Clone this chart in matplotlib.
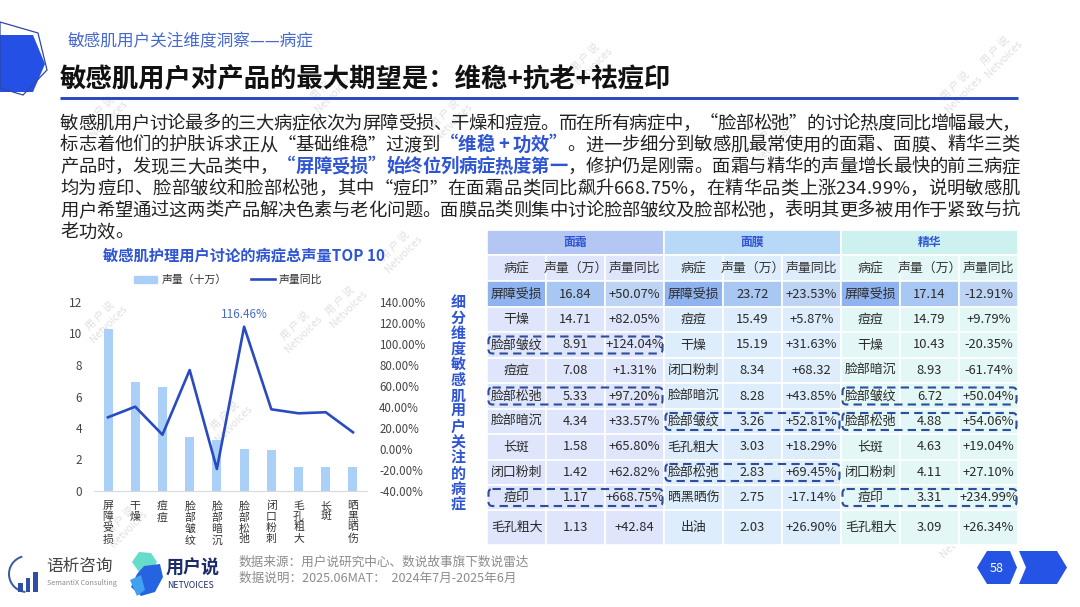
import numpy as np
import matplotlib.pyplot as plt
from matplotlib.patches import Polygon, Rectangle, FancyBboxPatch, Wedge
from matplotlib.lines import Line2D
from matplotlib.font_manager import FontProperties

plt.rcParams['font.family'] = ['Noto Sans CJK SC', 'DejaVu Sans']

# ---- data ----
cats = ['屏障受损', '干燥', '痘痘', '脸部皱纹', '脸部暗沉', '脸部松弛', '闭口粉刺', '毛孔粗大', '长斑', '晒黑晒伤']
vol = [10.28, 6.95, 6.6, 3.42, 3.25, 2.68, 2.6, 1.52, 1.52, 1.5]
yoy = [30.2, 40.3, 13.6, 75.2, -19.0, 116.46, 37.8, 34.0, 35.0, 15.9]
left_ticks = [0, 2, 4, 6, 8, 10, 12]
right_ticks = [-40, -20, 0, 20, 40, 60, 80, 100, 120, 140]

sections = ['面霜', '面膜', '精华']
col_heads = ['病症', '声量（万）', '声量同比']
cream_name = ['屏障受损', '干燥', '脸部皱纹', '痘痘', '脸部松弛', '脸部暗沉', '长斑', '闭口粉刺', '痘印', '毛孔粗大']
cream_vol = ['16.84', '14.71', '8.91', '7.08', '5.33', '4.34', '1.58', '1.42', '1.17', '1.13']
cream_yoy = ['+50.07%', '+82.05%', '+124.04%', '+1.31%', '+97.20%', '+33.57%', '+65.80%', '+62.82%', '+668.75%', '+42.84']
mask_name = ['屏障受损', '痘痘', '干燥', '闭口粉刺', '脸部暗沉', '脸部皱纹', '毛孔粗大', '脸部松弛', '晒黑晒伤', '出油']
mask_vol = ['23.72', '15.49', '15.19', '8.34', '8.28', '3.26', '3.03', '2.83', '2.75', '2.03']
mask_yoy = ['+23.53%', '+5.87%', '+31.63%', '+68.32', '+43.85%', '+52.81%', '+18.29%', '+69.45%', '-17.14%', '+26.90%']
serum_name = ['屏障受损', '痘痘', '干燥', '脸部暗沉', '脸部皱纹', '脸部松弛', '长斑', '闭口粉刺', '痘印', '毛孔粗大']
serum_vol = ['17.14', '14.79', '10.43', '8.93', '6.72', '4.88', '4.63', '4.11', '3.31', '3.09']
serum_yoy = ['-12.91%', '+9.79%', '-20.35%', '-61.74%', '+50.04%', '+54.06%', '+19.04%', '+27.10%', '+234.99%', '+26.34%']
highlight = [[2, 4, 8], [5, 7], [4, 5, 8]]

BLUE = '#2f55d4'
TXT = '#222222'

fig = plt.figure(figsize=(10.8, 6.07), dpi=100)
bg = fig.add_axes([0, 0, 1, 1])
bg.set_xlim(0, 1080)
bg.set_ylim(607, 0)
bg.axis('off')
renderer = fig.canvas.get_renderer()

# watermarks
for wx, wy in [(105, 320), (330, 90), (590, 62), (1000, 55), (960, 90), (125, 525), (230, 420),
               (300, 330), (345, 305), (105, 115), (450, 118), (770, 140), (955, 535), (860, 300),
               (660, 480), (525, 280), (830, 470), (400, 250), (560, 505)]:
    bg.text(wx, wy, '用 户 说\nNetvoices', rotation=45, fontsize=7.5, color='#e0e0e0',
            ha='center', va='center', linespacing=1.1, zorder=0)

# header decoration
bg.add_patch(Polygon([(0, 35), (33, 35), (45, 64), (33, 92), (0, 92)], closed=True,
                     facecolor='#2450e6', edgecolor='none', zorder=2))
bg.add_patch(Polygon([(0, 22), (38, 33), (47, 70), (23, 95), (0, 88)], closed=True,
                     facecolor='none', edgecolor='#3046a8', lw=0.9, zorder=3))
bg.text(68, 42, '敏感肌用户关注维度洞察——病症', fontsize=12, color='#4668cf', va='center', ha='left')
bg.text(60, 79, '敏感肌用户对产品的最大期望是：维稳+抗老+祛痘印', fontsize=19, fontweight='bold',
        color='#111111', va='center', ha='left')
bg.plot([60, 1018], [97.5, 97.5], color='#2748c0', lw=2.1, solid_capstyle='butt')

# ---- paragraph with justification ----
p_norm = FontProperties(family=['Noto Sans CJK SC', 'DejaVu Sans'], size=13.2)
p_bold = FontProperties(family=['Noto Sans CJK SC', 'DejaVu Sans'], size=13.2, weight='bold')
_cache = {}


def advance(ch, prop):
    key = (ch, prop.get_weight())
    if key not in _cache:
        w1 = renderer.get_text_width_height_descent('中' + ch + '中', prop, ismath=False)[0]
        w0 = renderer.get_text_width_height_descent('中中', prop, ismath=False)[0]
        _cache[key] = w1 - w0
    return _cache[key]


para = [
    [('敏感肌用户讨论最多的三大病症依次为屏障受损、干燥和痘痘。而在所有病症中，“脸部松弛”的讨论热度同比增幅最大，', 0)],
    [('标志着他们的护肤诉求正从“基础维稳”过渡到', 0), ('“维稳 + 功效”', 1), ('。进一步细分到敏感肌最常使用的面霜、面膜、精华三类', 0)],
    [('产品时，发现三大品类中，', 0), ('“屏障受损”始终位列病症热度第一', 1), ('，修护仍是刚需。面霜与精华的声量增长最快的前三病症', 0)],
    [('均为痘印、脸部皱纹和脸部松弛，其中“痘印”在面霜品类同比飙升668.75%，在精华品类上涨234.99%，说明敏感肌', 0)],
    [('用户希望通过这两类产品解决色素与老化问题。面膜品类则集中讨论脸部皱纹及脸部松弛，表明其更多被用作于紧致与抗', 0)],
    [('老功效。', 0)],
]
x0, right = 60, 1020
for i, line in enumerate(para):
    chars = [(ch, b) for seg, b in line for ch in seg]
    advs = [advance(ch, p_bold if b else p_norm) for ch, b in chars]
    extra = 0 if i == len(para) - 1 else (right - x0 - sum(advs)) / (len(chars) - 1)
    x = x0
    yb = 122 + 21.8 * i + 6.5
    for (ch, b), a in zip(chars, advs):
        bg.text(x, yb, ch, fontproperties=p_bold if b else p_norm,
                color=BLUE if b else TXT, ha='left', va='baseline')
        x += a + extra

# ---- chart ----
bg.text(103, 256, '敏感肌护理用户讨论的病症总声量TOP 10', fontsize=11, fontweight='bold',
        color=BLUE, ha='left', va='center')

ax = fig.add_axes([94.4 / 1080, (607 - 491) / 607, 272.2 / 1080, 189 / 607])
ax.patch.set_alpha(0)
xs = np.arange(len(cats))
ax.bar(xs, vol, width=0.33, color='#abd0f7', zorder=2)
ax.set_xlim(-0.5, len(cats) - 0.5)
ax.set_ylim(0, 12)
ax.set_yticks(left_ticks)
ax.set_yticklabels([str(t) for t in left_ticks])
ax.set_xticks(xs)
ax.set_xticklabels(['\n'.join(c) for c in cats], linespacing=1.1)
ax.tick_params(axis='y', length=0, pad=9, labelsize=8.5, labelcolor='#444444')
ax.tick_params(axis='x', length=0, pad=7, labelsize=7.8, labelcolor='#333333')
for s in ['top', 'right', 'left']:
    ax.spines[s].set_visible(False)
ax.spines['bottom'].set_color('#d9d9d9')

ax2 = ax.twinx()
ax2.plot(xs, yoy, color='#2a4bc0', lw=1.9, zorder=3)
ax2.set_ylim(-40, 140)
ax2.set_yticks(right_ticks)
ax2.set_yticklabels([f'{t:.2f}%' for t in right_ticks])
ax2.tick_params(axis='y', length=0, pad=9, labelsize=8.3, labelcolor='#444444')
for s in ax2.spines.values():
    s.set_visible(False)
imax = int(np.argmax(yoy))
ax2.annotate(f'{yoy[imax]:.2f}%', (xs[imax], yoy[imax]), xytext=(0, 4), textcoords='offset points',
             ha='center', va='bottom', fontsize=8.5, color='#4a6cc8')

handles = [Rectangle((0, 0), 1, 1, color='#abd0f7'), Line2D([0], [0], color='#2a4bc0', lw=1.9)]
fig.legend(handles, ['声量（十万）', '声量同比'], loc='center', bbox_to_anchor=(228 / 1080, 1 - 280 / 607),
           ncol=2, frameon=False, fontsize=7.8, handlelength=2.2, handleheight=0.7,
           columnspacing=2.2, handletextpad=0.4, labelcolor='#333333')

# vertical caption
for k, ch in enumerate('细分维度敏感肌用户关注的病症'):
    bg.text(458, 302 + 15.6 * k, ch, fontsize=10.8, fontweight='bold', color=BLUE,
            ha='center', va='center')

# ---- table ----
tx0, cw = 487, 59
row_tops = [230, 255, 281, 307, 332, 358, 383, 409, 434, 460, 485, 510, 545]
head_fill = ['#b4c7f4', '#b7d8f7', '#cdf1ef']
cell_fill = ['#dfe6fb', '#ddedfb', '#e3f7f6']
top_fill = ['#8fb3ee', '#a8c7f2', '#bdd4f5']
sec_data = [(cream_name, cream_vol, cream_yoy), (mask_name, mask_vol, mask_yoy),
            (serum_name, serum_vol, serum_yoy)]
for si, sec in enumerate(sections):
    sx = tx0 + si * 3 * cw
    bg.add_patch(Rectangle((sx, row_tops[0]), 3 * cw, row_tops[1] - row_tops[0],
                           facecolor=head_fill[si], edgecolor='white', lw=1.2, zorder=2))
    bg.text(sx + 1.5 * cw, (row_tops[0] + row_tops[1]) / 2, sec, fontsize=8.5, fontweight='bold',
            color=BLUE, ha='center', va='center', zorder=4)
    for ci, h in enumerate(col_heads):
        bg.add_patch(Rectangle((sx + ci * cw, row_tops[1]), cw, row_tops[2] - row_tops[1],
                               facecolor=cell_fill[si], edgecolor='white', lw=1.2, zorder=2))
        bg.text(sx + (ci + 0.5) * cw, (row_tops[1] + row_tops[2]) / 2, h, fontsize=9.3,
                color='#333333', ha='center', va='center', zorder=4)
    cols = sec_data[si]
    for ri in range(len(cols[0])):
        y_t, y_b = row_tops[ri + 2], row_tops[ri + 3]
        for ci in range(3):
            fc = top_fill[ci] if ri == 0 else cell_fill[si]
            bg.add_patch(Rectangle((sx + ci * cw, y_t), cw, y_b - y_t, facecolor=fc,
                                   edgecolor='white', lw=1.2, zorder=2))
            bg.text(sx + (ci + 0.5) * cw, (y_t + y_b) / 2, cols[ci][ri], fontsize=9.3,
                    color='#2a2a2a', ha='center', va='center', zorder=4)
        if ri in highlight[si]:
            yc = (y_t + y_b) / 2
            bg.add_patch(FancyBboxPatch((sx + 1.5, yc - 8.5), 3 * cw - 3, 17,
                                        boxstyle='round,pad=0,rounding_size=4', facecolor='none',
                                        edgecolor='#2d4d9e', lw=1.5, linestyle=(0, (4, 2.5)), zorder=5))

# ---- footer ----
bg.add_patch(Wedge((27, 574), 19, 95, 255, width=2.0, facecolor='#3c5aa8', edgecolor='none'))
for bx, bh in [(18, 9), (25.5, 14), (33, 20)]:
    bg.add_patch(Rectangle((bx, 592 - bh), 4.5, bh, facecolor='#2f4fa6', edgecolor='none'))
bg.text(46, 566, '语析咨询', fontsize=12, color='#444444', ha='left', va='center')
bg.text(47, 583, 'SemantiX Consulting', fontsize=5.2, color='#8a8a8a', ha='left', va='center')
bg.add_patch(Polygon([(139, 552), (151, 553), (157, 562), (151, 572), (139, 572), (132, 562)],
                     closed=True, facecolor='#66dccb', edgecolor='none'))
bg.add_patch(Polygon([(144, 566), (160, 564), (163, 577), (155, 592), (141, 596), (131, 587), (137, 574)],
                     closed=True, facecolor='#2563e0', edgecolor='none'))
bg.add_patch(Polygon([(130, 580), (141, 575), (145, 590), (137, 596)], closed=True,
                     facecolor='#3fa1f0', edgecolor='none'))
bg.text(166, 568, '用户说', fontsize=13, fontweight='bold', color='#1d2b6b', ha='left', va='center')
bg.text(167, 586, 'NETVOICES', fontsize=6.3, color='#1d2b6b', ha='left', va='center')
bg.text(239, 562, '数据来源：用户说研究中心、数说故事旗下数说雷达', fontsize=9.1, color='#8c8c8c',
        ha='left', va='center')
bg.text(239, 578, '数据说明：2025.06MAT：  2024年7月-2025年6月', fontsize=9.1, color='#8c8c8c',
        ha='left', va='center')

bg.add_patch(Polygon([(977, 567.5), (987, 551), (1010, 551), (1017, 567.5), (1010, 584), (987, 584)],
                     closed=True, facecolor='#2553e6', edgecolor='none'))
bg.text(997, 568, '58', fontsize=9, color='white', ha='center', va='center')
bg.add_patch(Polygon([(1019, 551), (1057, 551), (1067, 567.5), (1057, 584), (1019, 584), (1026, 567.5)],
                     closed=True, facecolor='#2553e6', edgecolor='none'))

fig.savefig('out.png', dpi=100)
